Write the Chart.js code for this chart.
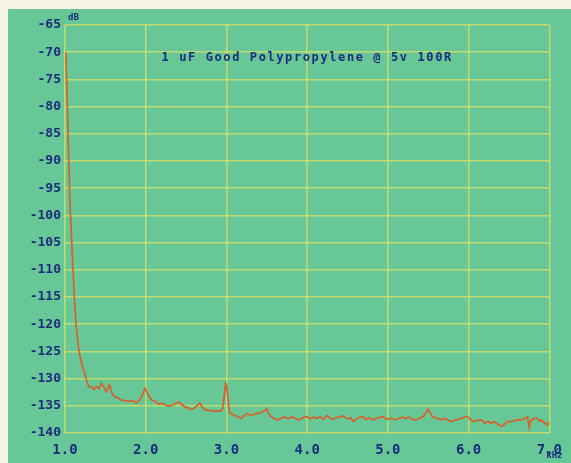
<!DOCTYPE html>
<html lang="en">
<head>
    <meta charset="UTF-8">
    <script src="https://cdn.jsdelivr.net/npm/chart.js"></script>
    <style>
        body {
            margin: 0;
            background: #f6f3e2;
            width: 571px;
            height: 463px;
            overflow: hidden;
        }
        .panel {
            position: absolute;
            left: 8px; /* cream border on the left and top */
            top: 9px;
            width: 563px;
            height: 454px;
            background: #67c796;
        }
    </style>
</head>
<body>
    <div class="panel">
        <canvas id="spectrum" width="563" height="454"></canvas>
    </div>

    <script>
// frequency in kHz, level in dB
const freqKHz = [1.01,1.02,1.04,1.06,1.08,1.10,1.12,1.14,1.16,1.18,1.20,1.22,1.245,1.27,1.30,1.33,1.36,1.39,1.42,1.45,
  1.48,1.51,1.53,1.55,1.58,1.61,1.65,1.69,1.74,1.80,1.84,1.88,1.91,1.94,1.97,1.99,2.01,2.04,2.08,2.12,
  2.16,2.20,2.25,2.29,2.34,2.39,2.42,2.45,2.49,2.53,2.57,2.62,2.67,2.70,2.73,2.78,2.82,2.87,2.92,2.95,
  2.97,2.99,3.00,3.01,3.03,3.05,3.10,3.14,3.18,3.22,3.26,3.30,3.35,3.39,3.44,3.48,3.50,3.52,3.55,3.59,
  3.63,3.68,3.72,3.75,3.79,3.82,3.86,3.90,3.94,4.00,4.04,4.08,4.12,4.16,4.20,4.24,4.28,4.32,4.35,4.40,
  4.45,4.50,4.54,4.57,4.61,4.65,4.69,4.73,4.77,4.82,4.86,4.90,4.94,4.99,5.04,5.09,5.14,5.18,5.22,5.26,
  5.30,5.35,5.39,5.43,5.46,5.48,5.50,5.52,5.55,5.59,5.63,5.67,5.71,5.75,5.79,5.83,5.87,5.92,5.96,5.98,
  6.02,6.06,6.10,6.16,6.20,6.24,6.28,6.32,6.36,6.41,6.45,6.49,6.53,6.57,6.61,6.65,6.69,6.73,6.75,6.77,
  6.81,6.85,6.88,6.90,6.94,6.98,7.00];

const levelDb = [-70,-75,-86,-97,-104,-110.5,-116,-120.5,-123.5,-125.5,-126.8,-128,-129,-130.5,-131.6,-131.5,-132,-131.5,-131.8,-130.9,
  -131.5,-132.4,-131.8,-131.2,-132.6,-133.3,-133.5,-133.9,-134.1,-134.2,-134.0,-134.5,-134.2,-133.6,-132.6,-131.8,-132.3,-133.3,-134.0,-134.2,
  -134.7,-134.5,-134.9,-135.1,-134.8,-134.4,-134.4,-134.8,-135.2,-135.4,-135.7,-135.2,-134.5,-135.2,-135.7,-135.8,-136.0,-135.9,-136.0,-135.6,
  -133.5,-130.9,-131.2,-132.3,-135.5,-136.5,-136.7,-137.0,-137.3,-136.8,-136.4,-136.8,-136.5,-136.4,-136.2,-135.8,-135.5,-136.3,-137.0,-137.3,
  -137.6,-137.3,-137.0,-137.3,-137.2,-137.0,-137.4,-137.6,-137.2,-137.0,-137.4,-137.1,-137.3,-137.0,-137.5,-136.8,-137.2,-137.5,-137.3,-137.0,
  -136.9,-137.4,-137.2,-137.9,-137.4,-137.1,-137.0,-137.5,-137.2,-137.6,-137.3,-137.1,-137.0,-137.5,-137.3,-137.6,-137.3,-137.1,-137.4,-137.0,
  -137.5,-137.6,-137.3,-137.0,-136.6,-136.0,-135.6,-136.2,-137.0,-137.2,-137.4,-137.6,-137.3,-137.7,-137.9,-137.6,-137.5,-137.3,-137.0,-136.9,
  -137.5,-137.9,-137.7,-137.6,-138.2,-137.9,-138.2,-137.9,-138.4,-138.8,-138.3,-137.9,-137.9,-137.7,-137.6,-137.6,-137.4,-137.0,-139.0,-137.8,
  -137.3,-137.3,-137.8,-137.6,-138.2,-138.5,-137.9];

const chartTitle = '1 uF Good Polypropylene @ 5v 100R';
const xTickLabels = ['1.0', '2.0', '3.0', '4.0', '5.0', '6.0', '7.0'];

const ink = '#1c2d7e';
const gridColor = 'rgba(214, 224, 104, 0.8)';

const points = freqKHz.map(function(f, i) {
    return { x: f, y: levelDb[i] };
});

// title and unit labels drawn on the canvas
const textPlugin = {
    id: 'labels',
    afterDraw: function(chart) {
        const ctx = chart.ctx;
        const area = chart.chartArea;
        ctx.save();
        ctx.fillStyle = ink;
        ctx.font = "bold 12px 'DejaVu Sans Mono'";
        ctx.letterSpacing = '1.6px';
        ctx.textAlign = 'center';
        ctx.textBaseline = 'middle';
        ctx.fillText(chartTitle, (area.left + area.right) / 2, area.top + 33);

        ctx.font = "bold 9px 'DejaVu Sans Mono'";
        ctx.letterSpacing = '0px';
        ctx.textAlign = 'left';
        ctx.fillText('dB', area.left + 3, area.top - 7);
        ctx.textAlign = 'center';
        ctx.fillText('kHz', area.right + 5, area.bottom + 23);
        ctx.restore();
    }
};

new Chart(document.getElementById('spectrum'), {
    type: 'line',
    data: {
        datasets: [{
            label: 'Level',
            data: points,
            borderColor: '#d8602c',
            borderWidth: 1.7,
            pointRadius: 0,
            tension: 0,
            fill: false
        }]
    },
    options: {
        responsive: false,
        animation: false,
        layout: {
            padding: { top: 16, right: 14, left: 0, bottom: 0 }
        },
        plugins: {
            legend: { display: false },
            tooltip: { enabled: false }
        },
        scales: {
            x: {
                type: 'linear',
                min: 1,
                max: 7,
                afterFit: function(scale) { scale.height = 30; },
                grid: { color: gridColor, lineWidth: 1.5, drawTicks: false },
                border: { display: false },
                ticks: {
                    stepSize: 1,
                    padding: 9,
                    color: ink,
                    maxRotation: 0,
                    font: { family: 'DejaVu Sans Mono', size: 14, weight: 'bold' },
                    callback: function(value) {
                        return xTickLabels[Math.round(value) - 1];
                    }
                }
            },
            y: {
                min: -140,
                max: -65,
                afterFit: function(scale) { scale.width = 57; },
                grid: { color: gridColor, lineWidth: 1.5, drawTicks: false },
                border: { display: false },
                ticks: {
                    stepSize: 5,
                    padding: 4,
                    color: ink,
                    font: { family: 'DejaVu Sans Mono', size: 13, weight: 'bold' }
                }
            }
        }
    },
    plugins: [textPlugin]
});
    </script>
</body>
</html>
